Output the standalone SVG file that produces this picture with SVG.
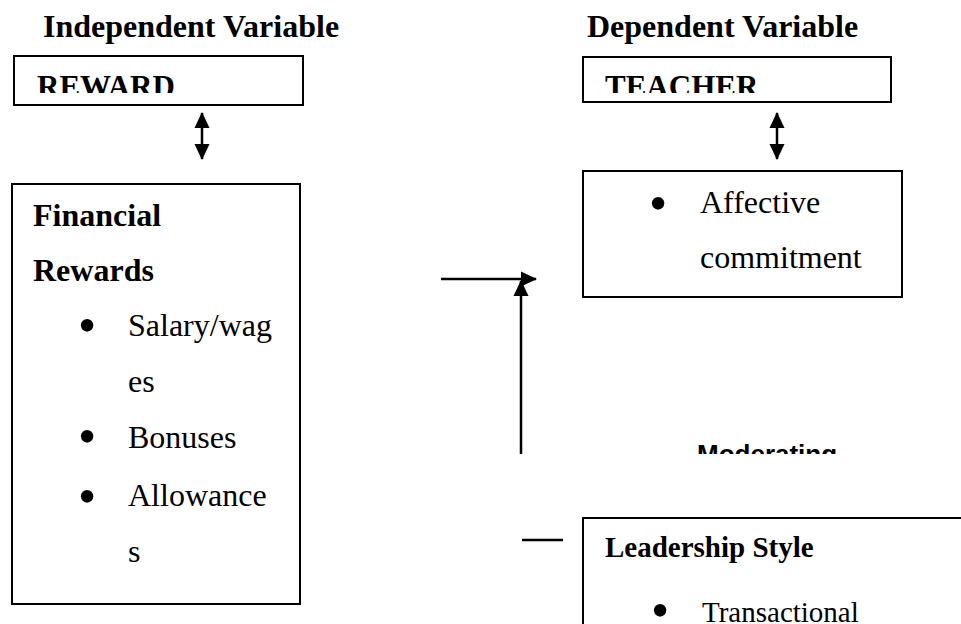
<svg xmlns="http://www.w3.org/2000/svg" width="961" height="624" viewBox="0 0 961 624">
<style>
.t{font-family:"Liberation Serif","Times New Roman",serif;fill:#000}
.b{font-weight:bold}
.bu{font-family:"Liberation Serif","Times New Roman",serif;fill:#000;font-size:52px;text-anchor:middle}
.box{fill:#fff;stroke:#000;stroke-width:2}
.ln{stroke:#000;stroke-width:2.5;fill:none}
.mod{font-family:"Liberation Sans",Arial,sans-serif;font-weight:bold;font-size:26px;fill:#000}
</style>
<defs>
<marker id="ah" viewBox="0 0 16 16" refX="15" refY="8" markerWidth="16" markerHeight="16" markerUnits="userSpaceOnUse" orient="auto-start-reverse">
<path d="M0,0.5 L16,8 L0,15.5 Z" fill="#000"/>
</marker>
<clipPath id="c1"><rect x="0" y="60" width="320" height="33"/></clipPath>
<clipPath id="c2"><rect x="585" y="60" width="320" height="33"/></clipPath>
<clipPath id="c3"><rect x="600" y="420" width="300" height="34"/></clipPath>
</defs>
<rect width="961" height="624" fill="#fff"/>
<g id="titles">
<text class="t b" x="43" y="37" font-size="32">Independent Variable</text>
<text class="t b" x="587" y="37" font-size="32">Dependent Variable</text>
</g>
<g id="reward">
<rect class="box" x="14" y="56" width="289" height="49"/>
<text class="t b" x="37" y="97" font-size="31" clip-path="url(#c1)">REWARD</text>
</g>
<g id="teacher">
<rect class="box" x="583" y="57" width="308" height="45"/>
<text class="t b" x="605" y="97" font-size="31" clip-path="url(#c2)">TEACHER</text>
</g>
<g id="financial">
<rect class="box" x="12" y="184" width="288" height="420"/>
<text class="t b" x="33" y="226" font-size="32">Financial</text>
<text class="t b" x="33" y="281" font-size="32">Rewards</text>
<text class="bu" x="87" y="343">•</text>
<text class="t" x="128" y="336" font-size="32">Salary/wag</text>
<text class="t" x="128" y="392" font-size="32">es</text>
<text class="bu" x="87" y="454">•</text>
<text class="t" x="128" y="448" font-size="32">Bonuses</text>
<text class="bu" x="87" y="514">•</text>
<text class="t" x="128" y="506" font-size="32">Allowance</text>
<text class="t" x="128" y="562" font-size="32">s</text>
</g>
<g id="affective">
<rect class="box" x="583" y="171" width="319" height="126"/>
<text class="bu" x="658" y="221">•</text>
<text class="t" x="700" y="213" font-size="32">Affective</text>
<text class="t" x="700" y="268" font-size="32">commitment</text>
</g>
<g id="moderating">
<text class="mod" x="697" y="463" clip-path="url(#c3)">Moderating</text>
</g>
<g id="leadership">
<rect class="box" x="583" y="518" width="390" height="120"/>
<text class="t b" x="605" y="557" font-size="29">Leadership Style</text>
<text class="bu" x="660" y="628" font-size="48">•</text>
<text class="t" x="702" y="622" font-size="29">Transactional</text>
</g>
<g id="connectors">
<line class="ln" x1="202" y1="113" x2="202" y2="159" marker-start="url(#ah)" marker-end="url(#ah)"/>
<line class="ln" x1="777" y1="113" x2="777" y2="159" marker-start="url(#ah)" marker-end="url(#ah)"/>
<line class="ln" x1="441" y1="279" x2="536" y2="279" marker-end="url(#ah)"/>
<line class="ln" x1="521" y1="454" x2="521" y2="281" marker-end="url(#ah)"/>
<line class="ln" x1="522" y1="540" x2="563" y2="540"/>
</g>
</svg>
